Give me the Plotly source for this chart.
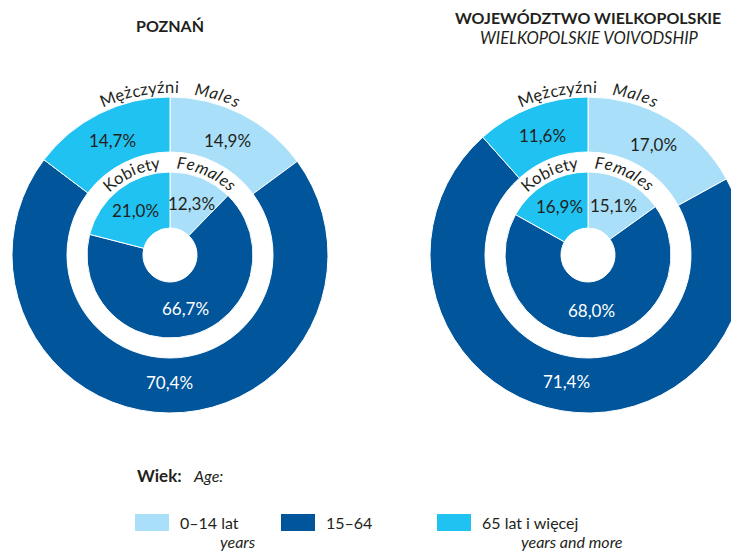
import math
import plotly.graph_objects as go

# ---------------- data ----------------
age_groups = ["0–14", "15–64", "65+"]
colors = ["#a9dff8", "#00559b", "#20c2f1"]
text_colors = ["#231f20", "#ffffff", "#231f20"]

poznan_males = [14.9, 70.4, 14.7]
poznan_females = [12.3, 66.7, 21.0]
wlkp_males = [17.0, 71.4, 11.6]
wlkp_females = [15.1, 68.0, 16.9]

legend_main = ["0–14 lat", "15–64", "65 lat i więcej"]
legend_sub = ["years", "", "years and more"]

W, H = 739, 551
OFF = 8  # page body margin: figure pixel (fx, fy) shows at (fx+8, fy+8)
FONT = "Lato"
DARK = "#231f20"

# geometry (screen pixels)
R_OUT, R_OUT_IN = 158, 103
R_IN, R_IN_HOLE = 83, 27
charts = [
    dict(cx=170, cy=255, males=poznan_males, females=poznan_females),
    dict(cx=588, cy=255, males=wlkp_males, females=wlkp_females),
]

fig = go.Figure()
annotations = []
shapes = []


def px(x):
    return (x - OFF) / W


def py(y):
    return 1 - (y - OFF) / H


def px_dom(cx, cy, r):
    return dict(x=[max(0, px(cx - r)), min(1, px(cx + r))],
                y=[py(cy + r), py(cy - r)])


def add_ann(x, y, text, size, color=DARK, angle=0, xanchor="center", bold=False, italic=False):
    t = text
    if bold:
        t = "<b>" + t + "</b>"
    if italic:
        t = "<i>" + t + "</i>"
    annotations.append(dict(x=px(x), y=py(y), xref="paper", yref="paper",
                            text=t, showarrow=False, textangle=angle,
                            xanchor=xanchor, yanchor="middle",
                            font=dict(family=FONT, size=size, color=color)))


WIDTHS = {"M": 0.90, "ę": 0.52, "ż": 0.45, "c": 0.46, "z": 0.45, "y": 0.49, "ź": 0.45,
          "n": 0.56, "i": 0.25, "a": 0.50, "l": 0.25, "e": 0.52, "s": 0.42, "K": 0.62,
          "o": 0.56, "b": 0.56, "t": 0.36, "F": 0.55, "m": 0.84}


def curved(s, cx, cy, r, a0, a1, size, italic=False):
    ws = [WIDTHS.get(ch, 0.5) for ch in s]
    tot = sum(ws)
    cum = 0
    for ch, w in zip(s, ws):
        frac = (cum + w / 2) / tot
        ang = a0 + frac * (a1 - a0)
        rad = math.radians(ang)
        x = cx + r * math.sin(rad)
        y = cy - r * math.cos(rad)
        add_ann(x, y, ch, size, angle=ang, italic=italic)
        cum += w


def pct(v):
    return f"{v:.1f}".replace(".", ",") + "%"


for c in charts:
    cx, cy = c["cx"], c["cy"]
    fig.add_trace(go.Pie(values=c["males"], labels=age_groups, sort=False,
                         direction="clockwise", rotation=0, hole=R_OUT_IN / R_OUT,
                         marker=dict(colors=colors, line=dict(color="white", width=1)),
                         textinfo="none", hoverinfo="label+value", showlegend=False,
                         domain=px_dom(cx, cy, R_OUT)))
    fig.add_trace(go.Pie(values=c["females"], labels=age_groups, sort=False,
                         direction="clockwise", rotation=0, hole=R_IN_HOLE / R_IN,
                         marker=dict(colors=colors, line=dict(color="white", width=1)),
                         textinfo="none", hoverinfo="label+value", showlegend=False,
                         domain=px_dom(cx, cy, R_IN)))
    # percentage labels
    for vals, rl in ((c["males"], 128), (c["females"], 56)):
        tot = sum(vals)
        cum = 0
        for i, v in enumerate(vals):
            mid = (cum + v / 2) / tot * 360
            rad = math.radians(mid)
            add_ann(cx + rl * math.sin(rad), cy - rl * math.cos(rad), pct(v), 17,
                    color=text_colors[i])
            cum += v
    # curved ring labels
    curved("Mężczyźni", cx, cy, 168, -24.5, 3, 16.5)
    curved("Males", cx, cy, 168, 8, 24.5, 16.5, italic=True)
    curved("Kobiety", cx, cy, 93, -44.5, -6, 16.5)
    curved("Females", cx, cy, 93, 4, 43.5, 16.5, italic=True)

# titles
add_ann(170, 26, "POZNAŃ", 16, bold=True)
add_ann(588, 17.5, "WOJEWÓDZTWO WIELKOPOLSKIE", 16, bold=True)
add_ann(589, 38, "WIELKOPOLSKIE VOIVODSHIP", 16.5, italic=True)

# legend
add_ann(135, 475, "Wiek:", 17, bold=True, xanchor="left")
add_ann(191, 475, "Age:", 16, italic=True, xanchor="left")
sw_x = [135, 281, 437]
for i in range(3):
    x0 = sw_x[i]
    shapes.append(dict(type="rect", xref="paper", yref="paper",
                       x0=px(x0), x1=px(x0 + 34), y0=py(531), y1=py(514),
                       fillcolor=colors[i], line=dict(width=0)))
    add_ann(x0 + 43, 522, legend_main[i], 16, xanchor="left")
sub_right = [258, None, 625]
for i in range(3):
    if legend_sub[i]:
        add_ann(sub_right[i], 541, legend_sub[i], 16, italic=True, xanchor="right")

fig.update_layout(width=W, height=H, margin=dict(l=0, r=0, t=0, b=0),
                  paper_bgcolor="white", plot_bgcolor="white",
                  annotations=annotations, shapes=shapes, showlegend=False,
                  font=dict(family=FONT, color=DARK))
fig.write_html("out.html")
